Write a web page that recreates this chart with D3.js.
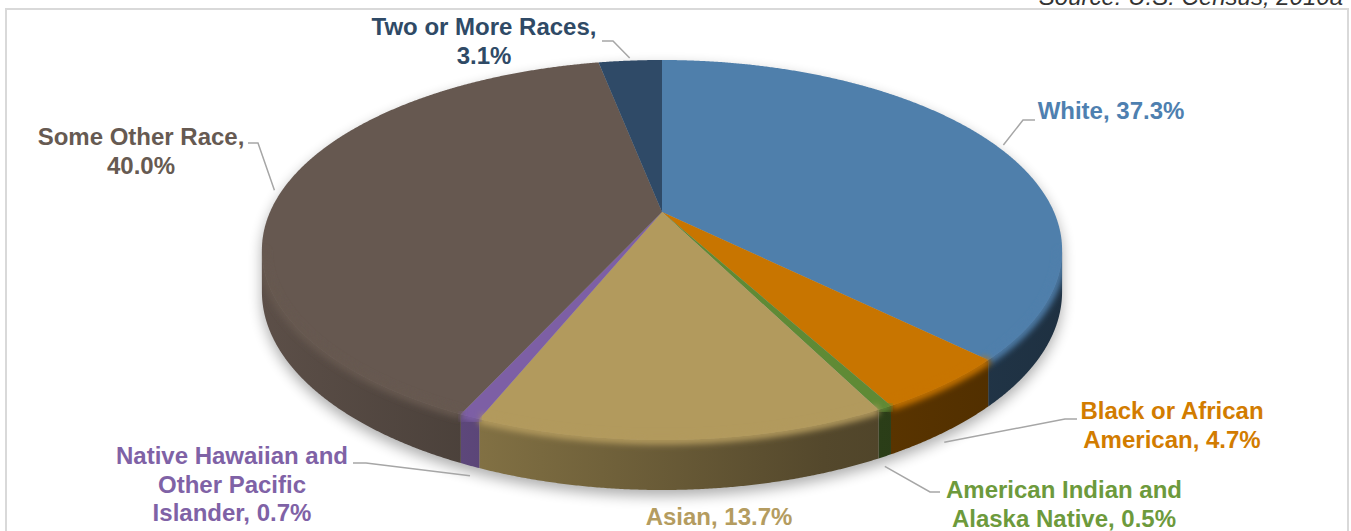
<!DOCTYPE html>
<html>
<head>
<meta charset="utf-8">
<script src="https://cdn.jsdelivr.net/npm/d3@7"></script>
<style>
  html, body { margin: 0; padding: 0; background: #fff; }
  svg { display: block; }
  text { font-family: "Liberation Sans", Arial, sans-serif; }
</style>
</head>
<body>
<svg id="chart" width="1351" height="531"></svg>
<script>
// Race composition, 2010
const categories = [
  "White",
  "Black or African American",
  "American Indian and Alaska Native",
  "Asian",
  "Native Hawaiian and Other Pacific Islander",
  "Some Other Race",
  "Two or More Races"
];
const values = [37.3, 4.7, 0.5, 13.7, 0.7, 40.0, 3.1];

// label text, "{v}" is replaced by the formatted value
const labelLines = [
  ["White, {v}"],
  ["Black or African", "American, {v}"],
  ["American Indian and", "Alaska Native, {v}"],
  ["Asian, {v}"],
  ["Native Hawaiian and", "Other Pacific", "Islander, {v}"],
  ["Some Other Race,", "{v}"],
  ["Two or More Races,", "{v}"]
];
const sourceNote = "Source: U.S. Census, 2010a";

// styling
const sliceColors = ["#4f7fab", "#c87500", "#5f8a35", "#b29a5d", "#7d5fa5", "#665850", "#2f4a67"];
const labelColors = ["#4e80b0", "#d27c00", "#6d9a3c", "#b49c60", "#7f62a6", "#665a52", "#2f4a66"];

// label placement: anchor (centre x, first baseline) and leader start / elbow
const labelLayout = [
  { x: 1111, y: 119, leader: [[1035, 120], [1023, 120]] },
  { x: 1172, y: 419, leader: [[1077, 419], [1065, 419]] },
  { x: 1064, y: 498, leader: [[940, 492], [930, 492]] },
  { x: 719,  y: 525, leader: null },
  { x: 232,  y: 464, leader: [[353, 463], [366, 463]] },
  { x: 141,  y: 145, leader: [[248, 143], [258, 143]] },
  { x: 484,  y: 35,  leader: [[602, 41], [613, 41]] }
];

const svg = d3.select("#chart");
const defs = svg.append("defs");

// frame
svg.append("rect")
  .attr("x", 6).attr("y", 9).attr("width", 1342).attr("height", 600)
  .attr("fill", "none").attr("stroke", "#d9d9d9").attr("stroke-width", 2);

svg.append("text")
  .attr("x", 1343).attr("y", 5)
  .attr("text-anchor", "end")
  .attr("font-size", 24).attr("font-style", "italic")
  .attr("fill", "#333")
  .text(sourceNote);

// perspective disc geometry
const cx = 662, cy = 212;
const A = 392, B = 182.4, K = 0.2, H = 40;

function proj(t, r = 1) {
  const X = r * Math.sin(t), Z = r * Math.cos(t);
  const w = 1 + K * Z;
  return [cx + A * X / w, cy - B * Z / w];
}
function projBottom(t) {
  const p = proj(t);
  const w = 1 + K * Math.cos(t);
  return [p[0], p[1] + H / w];
}
function sample(t0, t1, fn) {
  const step = Math.PI / 720;
  const n = Math.max(2, Math.ceil(Math.abs(t1 - t0) / step));
  const pts = [];
  for (let i = 0; i <= n; i++) pts.push(fn(t0 + (t1 - t0) * i / n));
  return pts;
}
const line = d3.line();

const pie = d3.pie().sort(null).value(d => d)(values);
const sAng1 = Math.acos(-K);             // right silhouette
const sAng2 = 2 * Math.PI - Math.acos(-K); // left silhouette

// silhouette of the whole disc
const silPts = sample(sAng2, sAng1 + 2 * Math.PI, t => proj(t))
  .concat(sample(sAng1, sAng2, projBottom));
const silPath = line(silPts) + "Z";

defs.append("clipPath").attr("id", "disc").append("path").attr("d", silPath);

const blurShadow = defs.append("filter").attr("id", "shadowBlur")
  .attr("x", "-10%").attr("y", "-10%").attr("width", "120%").attr("height", "130%");
blurShadow.append("feGaussianBlur").attr("stdDeviation", 7);

const blurEdge = defs.append("filter").attr("id", "edgeBlur")
  .attr("x", "-10%").attr("y", "-50%").attr("width", "120%").attr("height", "200%");
blurEdge.append("feGaussianBlur").attr("stdDeviation", 3);

// drop shadow
svg.append("path")
  .attr("d", silPath)
  .attr("transform", "translate(0,6)")
  .attr("fill", "#000").attr("opacity", 0.32)
  .attr("filter", "url(#shadowBlur)");

const gPie = svg.append("g");

// side gradients (lit from the left)
const shade = [[0, 0.9], [0.35, 0.68], [0.7, 0.47], [1, 0.38]];
pie.forEach((d, i) => {
  const c = d3.rgb(sliceColors[i]);
  const g = defs.append("linearGradient").attr("id", "side" + i)
    .attr("gradientUnits", "userSpaceOnUse")
    .attr("x1", cx - A * 1.03).attr("x2", cx + A * 1.03)
    .attr("y1", 0).attr("y2", 0);
  shade.forEach(([o, f]) => {
    g.append("stop").attr("offset", o)
      .attr("stop-color", d3.rgb(c.r * f, c.g * f, c.b * f).formatHex());
  });
});

// front walls
pie.forEach((d, i) => {
  const t0 = Math.max(d.startAngle, sAng1);
  const t1 = Math.min(d.endAngle, sAng2);
  if (t1 <= t0) return;
  const pts = sample(t0, t1, t => proj(t)).concat(sample(t1, t0, projBottom));
  gPie.append("path").attr("d", line(pts) + "Z")
    .attr("fill", `url(#side${i})`);
});

// top faces
pie.forEach((d, i) => {
  const pts = [[cx, cy]].concat(sample(d.startAngle, d.endAngle, t => proj(t)));
  gPie.append("path").attr("d", line(pts) + "Z")
    .attr("fill", sliceColors[i]);
});

// rounded rim between top and wall
const gRim = svg.append("g").attr("clip-path", "url(#disc)");
pie.forEach((d, i) => {
  const t0 = Math.max(d.startAngle, sAng1);
  const t1 = Math.min(d.endAngle, sAng2);
  if (t1 <= t0) return;
  gRim.append("path")
    .attr("d", line(sample(t0, t1, t => proj(t))))
    .attr("fill", "none")
    .attr("stroke", sliceColors[i])
    .attr("stroke-width", 9)
    .attr("filter", "url(#edgeBlur)");
});

// labels and leaders
const fmt = d3.format(".1f");
pie.forEach((d, i) => {
  const lay = labelLayout[i];
  const mid = (d.startAngle + d.endAngle) / 2;
  if (lay.leader) {
    let end;
    if (mid > sAng1 && mid < sAng2) {
      const b = projBottom(mid);
      end = [b[0], b[1] + 10];
    } else {
      end = proj(mid, 1.02);
    }
    svg.append("path")
      .attr("d", line([lay.leader[0], lay.leader[1], end]))
      .attr("fill", "none").attr("stroke", "#a6a6a6").attr("stroke-width", 1.5);
  }
  const txt = svg.append("text")
    .attr("text-anchor", "middle")
    .attr("font-size", 24).attr("font-weight", "bold")
    .attr("fill", labelColors[i]);
  labelLines[i].forEach((s, j) => {
    txt.append("tspan")
      .attr("x", lay.x).attr("y", lay.y + j * 28.5)
      .text(s.replace("{v}", fmt(d.data) + "%"));
  });
});
</script>
</body>
</html>
